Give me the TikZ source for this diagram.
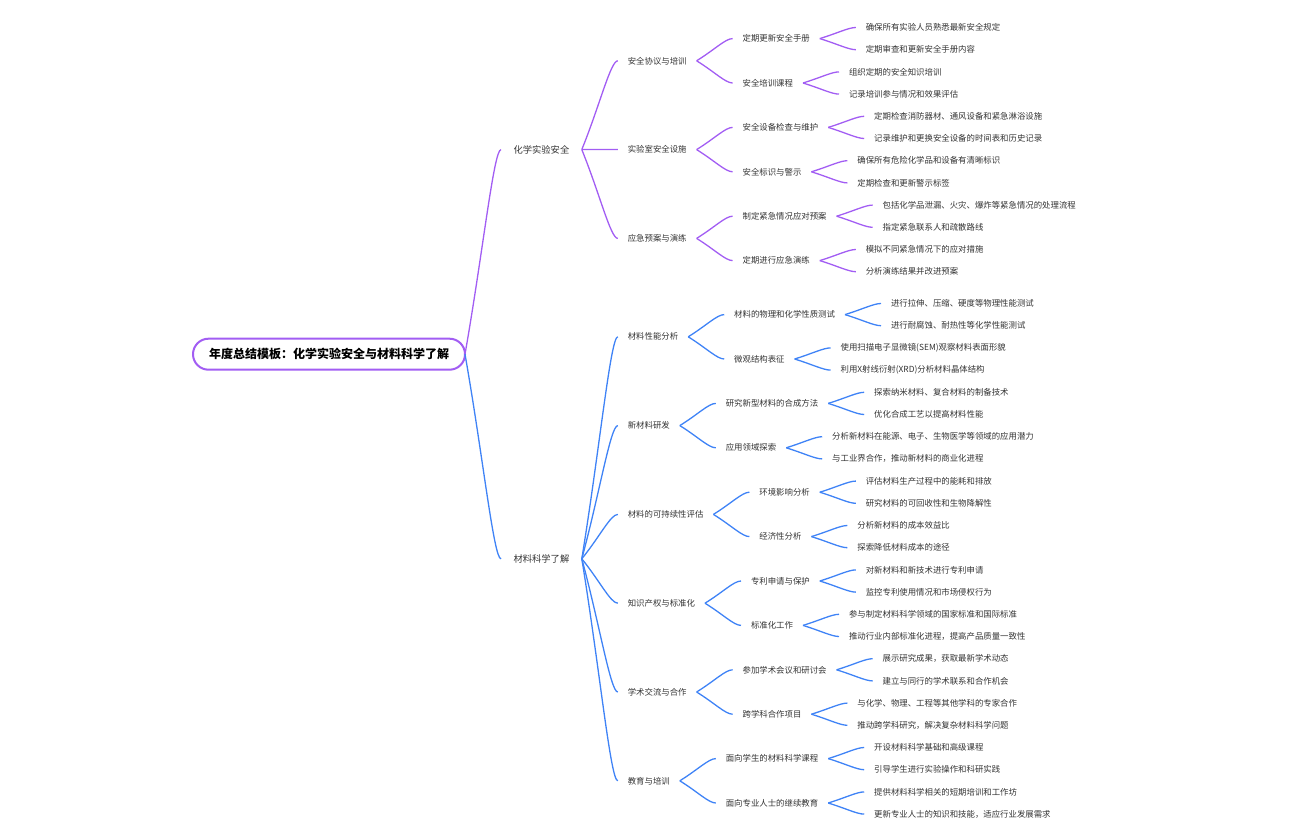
\documentclass[tikz,border=0pt]{standalone}
\usepackage{fontspec}
\setmainfont{Noto Sans CJK SC}
\usetikzlibrary{positioning,calc}
\definecolor{chem}{HTML}{A25DF3}
\definecolor{mat}{HTML}{3F83F6}
\definecolor{ink}{HTML}{333333}
\tikzset{
  root/.style={draw=chem, line width=2pt, fill=white, rounded corners=15.5pt,
    minimum height=31pt, inner xsep=16pt, inner ysep=0pt, outer sep=0pt,
    font=\fontsize{12}{14}\selectfont\bfseries, text=black},
  topic/.style={inner xsep=12.5pt, inner ysep=2pt, outer sep=0pt,
    font=\fontsize{9.3}{11}\selectfont, text=ink},
  sub/.style={inner xsep=10pt, inner ysep=2pt, outer sep=0pt,
    font=\fontsize{8.4}{10}\selectfont, text=ink},
  chemlink/.style={draw=chem, line width=1.3pt},
  matlink/.style={draw=mat, line width=1.3pt}
}
% curved branch from the end of one topic to the start of the next
\def\link#1#2#3{\draw[#1] (#2.east) .. controls ($(#2.east)!0.5!(#3.west)$) and ($(#2.east |- #3.west)!0.8!(#3.west)$) .. (#3.west);}

\begin{document}
\begin{tikzpicture}[x=1pt,y=1pt]
\useasboundingbox (-1,1.5) rectangle (1295,-838.5);

\node (r) [root, anchor=west] at (192,-352.7) {年度总结模板：化学实验安全与材料科学了解};
\node (c) [topic, right=36pt of r, yshift=204.6pt] {化学实验安全};
\node (m) [topic, right=36pt of r, yshift=-204.6pt] {材料科学了解};

% chemistry branch
\node (c1) [sub, right=36pt of c, yshift=88.8pt] {安全协议与培训};
\node (c2) [sub, right=36pt of c] {实验室安全设施};
\node (c3) [sub, right=36pt of c, yshift=-88.8pt] {应急预案与演练};

\node (c11) [sub, right=36pt of c1, yshift=22.2pt] {定期更新安全手册};
\node (c12) [sub, right=36pt of c1, yshift=-22.2pt] {安全培训课程};
\node (c21) [sub, right=36pt of c2, yshift=22.2pt] {安全设备检查与维护};
\node (c22) [sub, right=36pt of c2, yshift=-22.2pt] {安全标识与警示};
\node (c31) [sub, right=36pt of c3, yshift=22.2pt] {制定紧急情况应对预案};
\node (c32) [sub, right=36pt of c3, yshift=-22.2pt] {定期进行应急演练};

\node (c111) [sub, right=36pt of c11, yshift=11.1pt] {确保所有实验人员熟悉最新安全规定};
\node (c112) [sub, right=36pt of c11, yshift=-11.1pt] {定期审查和更新安全手册内容};
\node (c121) [sub, right=36pt of c12, yshift=11.1pt] {组织定期的安全知识培训};
\node (c122) [sub, right=36pt of c12, yshift=-11.1pt] {记录培训参与情况和效果评估};
\node (c211) [sub, right=36pt of c21, yshift=11.1pt] {定期检查消防器材、通风设备和紧急淋浴设施};
\node (c212) [sub, right=36pt of c21, yshift=-11.1pt] {记录维护和更换安全设备的时间表和历史记录};
\node (c221) [sub, right=36pt of c22, yshift=11.1pt] {确保所有危险化学品和设备有清晰标识};
\node (c222) [sub, right=36pt of c22, yshift=-11.1pt] {定期检查和更新警示标签};
\node (c311) [sub, right=36pt of c31, yshift=11.1pt] {包括化学品泄漏、火灾、爆炸等紧急情况的处理流程};
\node (c312) [sub, right=36pt of c31, yshift=-11.1pt] {指定紧急联系人和疏散路线};
\node (c321) [sub, right=36pt of c32, yshift=11.1pt] {模拟不同紧急情况下的应对措施};
\node (c322) [sub, right=36pt of c32, yshift=-11.1pt] {分析演练结果并改进预案};

% materials branch
\node (m1) [sub, right=36pt of m, yshift=222pt] {材料性能分析};
\node (m2) [sub, right=36pt of m, yshift=133.2pt] {新材料研发};
\node (m3) [sub, right=36pt of m, yshift=44.4pt] {材料的可持续性评估};
\node (m4) [sub, right=36pt of m, yshift=-44.4pt] {知识产权与标准化};
\node (m5) [sub, right=36pt of m, yshift=-133.2pt] {学术交流与合作};
\node (m6) [sub, right=36pt of m, yshift=-222pt] {教育与培训};

\node (m11) [sub, right=36pt of m1, yshift=22.2pt] {材料的物理和化学性质测试};
\node (m12) [sub, right=36pt of m1, yshift=-22.2pt] {微观结构表征};
\node (m21) [sub, right=36pt of m2, yshift=22.2pt] {研究新型材料的合成方法};
\node (m22) [sub, right=36pt of m2, yshift=-22.2pt] {应用领域探索};
\node (m31) [sub, right=36pt of m3, yshift=22.2pt] {环境影响分析};
\node (m32) [sub, right=36pt of m3, yshift=-22.2pt] {经济性分析};
\node (m41) [sub, right=36pt of m4, yshift=22.2pt] {专利申请与保护};
\node (m42) [sub, right=36pt of m4, yshift=-22.2pt] {标准化工作};
\node (m51) [sub, right=36pt of m5, yshift=22.2pt] {参加学术会议和研讨会};
\node (m52) [sub, right=36pt of m5, yshift=-22.2pt] {跨学科合作项目};
\node (m61) [sub, right=36pt of m6, yshift=22.2pt] {面向学生的材料科学课程};
\node (m62) [sub, right=36pt of m6, yshift=-22.2pt] {面向专业人士的继续教育};

\node (m111) [sub, right=36pt of m11, yshift=11.1pt] {进行拉伸、压缩、硬度等物理性能测试};
\node (m112) [sub, right=36pt of m11, yshift=-11.1pt] {进行耐腐蚀、耐热性等化学性能测试};
\node (m121) [sub, right=36pt of m12, yshift=11.1pt] {使用扫描电子显微镜(SEM)观察材料表面形貌};
\node (m122) [sub, right=36pt of m12, yshift=-11.1pt] {利用X射线衍射(XRD)分析材料晶体结构};
\node (m211) [sub, right=36pt of m21, yshift=11.1pt] {探索纳米材料、复合材料的制备技术};
\node (m212) [sub, right=36pt of m21, yshift=-11.1pt] {优化合成工艺以提高材料性能};
\node (m221) [sub, right=36pt of m22, yshift=11.1pt] {分析新材料在能源、电子、生物医学等领域的应用潜力};
\node (m222) [sub, right=36pt of m22, yshift=-11.1pt] {与工业界合作，推动新材料的商业化进程};
\node (m311) [sub, right=36pt of m31, yshift=11.1pt] {评估材料生产过程中的能耗和排放};
\node (m312) [sub, right=36pt of m31, yshift=-11.1pt] {研究材料的可回收性和生物降解性};
\node (m321) [sub, right=36pt of m32, yshift=11.1pt] {分析新材料的成本效益比};
\node (m322) [sub, right=36pt of m32, yshift=-11.1pt] {探索降低材料成本的途径};
\node (m411) [sub, right=36pt of m41, yshift=11.1pt] {对新材料和新技术进行专利申请};
\node (m412) [sub, right=36pt of m41, yshift=-11.1pt] {监控专利使用情况和市场侵权行为};
\node (m421) [sub, right=36pt of m42, yshift=11.1pt] {参与制定材料科学领域的国家标准和国际标准};
\node (m422) [sub, right=36pt of m42, yshift=-11.1pt] {推动行业内部标准化进程，提高产品质量一致性};
\node (m511) [sub, right=36pt of m51, yshift=11.1pt] {展示研究成果，获取最新学术动态};
\node (m512) [sub, right=36pt of m51, yshift=-11.1pt] {建立与同行的学术联系和合作机会};
\node (m521) [sub, right=36pt of m52, yshift=11.1pt] {与化学、物理、工程等其他学科的专家合作};
\node (m522) [sub, right=36pt of m52, yshift=-11.1pt] {推动跨学科研究，解决复杂材料科学问题};
\node (m611) [sub, right=36pt of m61, yshift=11.1pt] {开设材料科学基础和高级课程};
\node (m612) [sub, right=36pt of m61, yshift=-11.1pt] {引导学生进行实验操作和科研实践};
\node (m621) [sub, right=36pt of m62, yshift=11.1pt] {提供材料科学相关的短期培训和工作坊};
\node (m622) [sub, right=36pt of m62, yshift=-11.1pt] {更新专业人士的知识和技能，适应行业发展需求};

% branches
\link{chemlink}{r}{c}
\link{matlink}{r}{m}

\link{chemlink}{c}{c1}
\link{chemlink}{c}{c2}
\link{chemlink}{c}{c3}
\link{chemlink}{c1}{c11}
\link{chemlink}{c1}{c12}
\link{chemlink}{c2}{c21}
\link{chemlink}{c2}{c22}
\link{chemlink}{c3}{c31}
\link{chemlink}{c3}{c32}
\link{chemlink}{c11}{c111}
\link{chemlink}{c11}{c112}
\link{chemlink}{c12}{c121}
\link{chemlink}{c12}{c122}
\link{chemlink}{c21}{c211}
\link{chemlink}{c21}{c212}
\link{chemlink}{c22}{c221}
\link{chemlink}{c22}{c222}
\link{chemlink}{c31}{c311}
\link{chemlink}{c31}{c312}
\link{chemlink}{c32}{c321}
\link{chemlink}{c32}{c322}

\link{matlink}{m}{m1}
\link{matlink}{m}{m2}
\link{matlink}{m}{m3}
\link{matlink}{m}{m4}
\link{matlink}{m}{m5}
\link{matlink}{m}{m6}
\link{matlink}{m1}{m11}
\link{matlink}{m1}{m12}
\link{matlink}{m2}{m21}
\link{matlink}{m2}{m22}
\link{matlink}{m3}{m31}
\link{matlink}{m3}{m32}
\link{matlink}{m4}{m41}
\link{matlink}{m4}{m42}
\link{matlink}{m5}{m51}
\link{matlink}{m5}{m52}
\link{matlink}{m6}{m61}
\link{matlink}{m6}{m62}
\link{matlink}{m11}{m111}
\link{matlink}{m11}{m112}
\link{matlink}{m12}{m121}
\link{matlink}{m12}{m122}
\link{matlink}{m21}{m211}
\link{matlink}{m21}{m212}
\link{matlink}{m22}{m221}
\link{matlink}{m22}{m222}
\link{matlink}{m31}{m311}
\link{matlink}{m31}{m312}
\link{matlink}{m32}{m321}
\link{matlink}{m32}{m322}
\link{matlink}{m41}{m411}
\link{matlink}{m41}{m412}
\link{matlink}{m42}{m421}
\link{matlink}{m42}{m422}
\link{matlink}{m51}{m511}
\link{matlink}{m51}{m512}
\link{matlink}{m52}{m521}
\link{matlink}{m52}{m522}
\link{matlink}{m61}{m611}
\link{matlink}{m61}{m612}
\link{matlink}{m62}{m621}
\link{matlink}{m62}{m622}
\end{tikzpicture}
\end{document}
